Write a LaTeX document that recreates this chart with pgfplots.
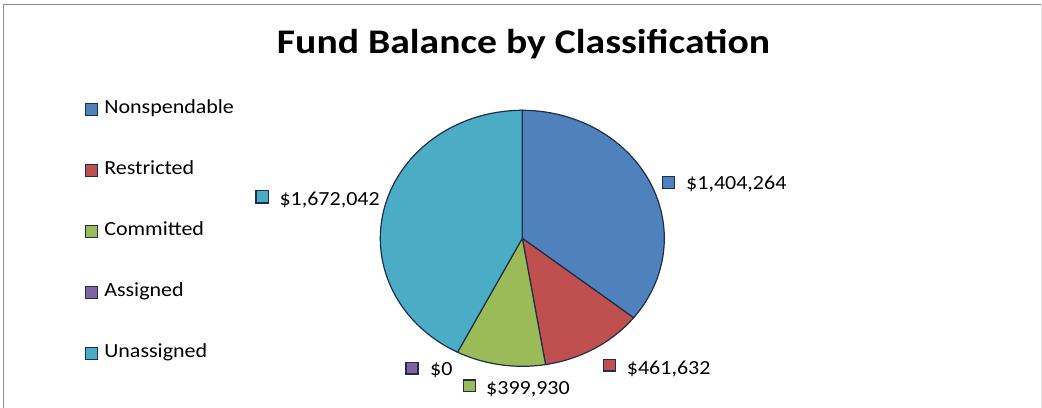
\documentclass[border=0pt]{standalone}
\usepackage{pgfplots}
\pgfplotsset{compat=1.18}
\usepackage{fontspec}
\setmainfont[FakeStretch=1.1]{Carlito}
\newfontfamily\titlefont[FakeStretch=1.15]{Carlito}
\definecolor{cN}{HTML}{4F81BD}
\definecolor{cR}{HTML}{C0504D}
\definecolor{cC}{HTML}{9BBB59}
\definecolor{cA}{HTML}{8064A2}
\definecolor{cU}{HTML}{4BACC6}
\definecolor{edge}{HTML}{1F2E4B}
% values in thousands of dollars
\def\vN{1404.264}
\def\vR{461.632}
\def\vC{399.930}
\def\vA{0}
\def\vU{1672.042}
\pgfmathsetmacro\tot{\vN+\vR+\vC+\vA+\vU}
\pgfmathsetmacro\aN{90}
\pgfmathsetmacro\bN{\aN-360*(\vN/\tot)}
\pgfmathsetmacro\bR{\bN-360*(\vR/\tot)}
\pgfmathsetmacro\bC{\bR-360*(\vC/\tot)}
\pgfmathsetmacro\bA{\bC-360*(\vA/\tot)}
\pgfmathsetmacro\bU{\bA-360*(\vU/\tot)}
\def\cx{522.3}
\def\cy{169.7}
\def\rx{142}
\def\ry{128}
\begin{document}
\begin{tikzpicture}
\begin{axis}[name=ax, hide axis, scale only axis, width=1042bp, height=408bp,
  xmin=0, xmax=1042, ymin=0, ymax=408, clip=false,
  legend style={draw=none, fill=none, at={(axis cs:85,307.3)}, anchor=north west,
    inner sep=0pt, outer sep=0pt, row sep=44bp,
    font=\fontsize{20bp}{24bp}\selectfont,
    nodes={inner sep=0pt, text height=13bp, text depth=4bp},
    /tikz/every odd column/.append style={column sep=6bp}},
  legend cell align=left,
  legend image code/.code={\draw[#1, draw=edge, line width=1.3bp] (0bp,-6bp) rectangle (12bp,6bp);},
]
\addplot[fill=cN, draw=edge, line width=1.2bp, domain=\bN:\aN, samples=120, variable=\t, forget plot]
  ({\cx+\rx*cos(\t)},{\cy+\ry*sin(\t)}) -- (axis cs:\cx,\cy) -- cycle;
\addplot[fill=cR, draw=edge, line width=1.2bp, domain=\bR:\bN, samples=60, variable=\t, forget plot]
  ({\cx+\rx*cos(\t)},{\cy+\ry*sin(\t)}) -- (axis cs:\cx,\cy) -- cycle;
\addplot[fill=cC, draw=edge, line width=1.2bp, domain=\bC:\bR, samples=60, variable=\t, forget plot]
  ({\cx+\rx*cos(\t)},{\cy+\ry*sin(\t)}) -- (axis cs:\cx,\cy) -- cycle;
\addplot[fill=cU, draw=edge, line width=1.2bp, domain=\bU:\bA, samples=140, variable=\t, forget plot]
  ({\cx+\rx*cos(\t)},{\cy+\ry*sin(\t)}) -- (axis cs:\cx,\cy) -- cycle;
\addlegendimage{fill=cN}\addlegendentry{Nonspendable}
\addlegendimage{fill=cR}\addlegendentry{Restricted}
\addlegendimage{fill=cC}\addlegendentry{Committed}
\addlegendimage{fill=cA}\addlegendentry{Assigned}
\addlegendimage{fill=cU}\addlegendentry{Unassigned}
% title
\node[anchor=base, inner sep=0pt, font=\titlefont\bfseries\fontsize{34.5bp}{40bp}\selectfont]
  at (axis cs:523.5,354.7) {Fund Balance by Classification};
% data labels
\begin{scope}[every node/.style={anchor=base west, inner sep=0pt, font=\fontsize{20bp}{24bp}\selectfont}]
\draw[fill=cN, draw=edge, line width=1.3bp] (axis cs:662.5,231.5) rectangle (axis cs:674.5,219.5);
\node at (axis cs:686,218) {\$1,404,264};
\draw[fill=cU, draw=edge, line width=1.3bp] (axis cs:256,217.5) rectangle (axis cs:268.5,205);
\node at (axis cs:279.3,202) {\$1,672,042};
\draw[fill=cA, draw=edge, line width=1.3bp] (axis cs:406,45.5) rectangle (axis cs:418,34);
\node at (axis cs:430,32) {\$0};
\draw[fill=cC, draw=edge, line width=1.3bp] (axis cs:463.5,28) rectangle (axis cs:475.5,16.5);
\node at (axis cs:486,14) {\$399,930};
\draw[fill=cR, draw=edge, line width=1.3bp] (axis cs:603.5,48.5) rectangle (axis cs:615.5,37);
\node at (axis cs:626.7,33.7) {\$461,632};
\end{scope}
% chart border
\draw[color=black!45, line width=1.5bp] (axis cs:3.5,0) -- (axis cs:3.5,403.5) -- (axis cs:1041,403.5);
\draw[color=black!12, line width=1bp] (axis cs:1041,403.5) -- (axis cs:1041,0);
\end{axis}
\pgfresetboundingbox
\path[use as bounding box] (ax.south west) rectangle (ax.north east);
\end{tikzpicture}
\end{document}
